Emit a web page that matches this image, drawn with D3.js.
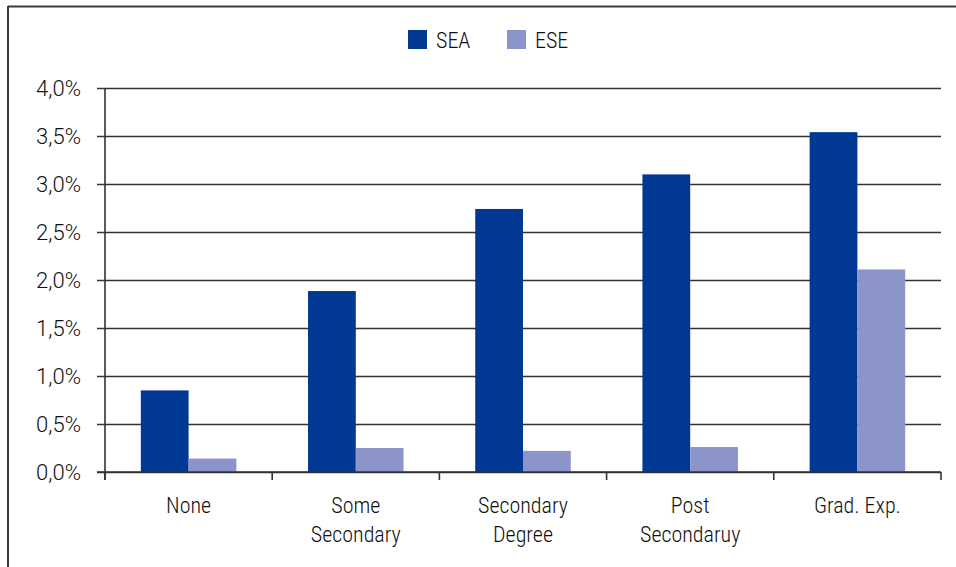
<!DOCTYPE html>
<html>
<head>
<meta charset="utf-8">
<script src="https://cdn.jsdelivr.net/npm/d3@7"></script>
<style>
  html, body { margin: 0; padding: 0; background: #fff; }
  svg { display: block; }
  text { font-family: "Roboto Condensed", "Liberation Sans Narrow", "Arial Narrow", sans-serif; font-weight: 300; fill: #111; }
  .ylab text { font-family: Roboto, "Liberation Sans", sans-serif; font-weight: 300; }
</style>
</head>
<body>
<svg id="chart" width="956" height="567"></svg>
<script>
// Education categories (multi-line labels split on "\n")
const categories = ["None", "Some\nSecondary", "Secondary\nDegree", "Post\nSecondaruy", "Grad. Exp."];
const seriesNames = ["SEA", "ESE"];
const seaValues = [0.85, 1.885, 2.74, 3.10, 3.54];
const eseValues = [0.14, 0.25, 0.22, 0.26, 2.11];
const yTicks = [0, 0.5, 1.0, 1.5, 2.0, 2.5, 3.0, 3.5, 4.0];
const colors = { SEA: "#003894", ESE: "#8c95c9" };

const svg = d3.select("#chart");
const margin = { left: 105, right: 941, top: 88, bottom: 472 };

// outer frame: top and left edges
svg.append("line").attr("x1", 8).attr("x2", 956).attr("y1", 6.5).attr("y2", 6.5)
  .attr("stroke", "#3a3a3a").attr("stroke-width", 2);
svg.append("line").attr("x1", 8).attr("x2", 8).attr("y1", 6).attr("y2", 567)
  .attr("stroke", "#3a3a3a").attr("stroke-width", 2);

const x = d3.scaleBand().domain(categories).range([margin.left, margin.right]).paddingInner(0).paddingOuter(0);
const inner = d3.scaleBand().domain(seriesNames).range([0, x.bandwidth()]).paddingInner(0).paddingOuter(0.75);
const y = d3.scaleLinear().domain([0, 4]).range([margin.bottom, margin.top]);

// horizontal gridlines with left tick marks
const yAxis = d3.axisLeft(y).tickValues(yTicks)
  .tickSize(-(margin.right - margin.left + 8))
  .tickFormat(d => d.toFixed(1).replace(".", ",") + "%");
const gy = svg.append("g").attr("class", "ylab").attr("transform", `translate(${margin.left - 8},0)`).call(yAxis);
gy.select(".domain").remove();
gy.selectAll(".tick line").attr("stroke", "#333").attr("stroke-width", 1.6);
gy.selectAll(".tick text").attr("font-size", 22).attr("fill", "#111").attr("dy", "0.36em")
  .attr("x", -16);

// vertical axis line
svg.append("line").attr("x1", margin.left).attr("x2", margin.left)
  .attr("y1", margin.top).attr("y2", margin.bottom + 8)
  .attr("stroke", "#333").attr("stroke-width", 1.6);

// bars
const rows = categories.map((c, i) => ({ cat: c, SEA: seaValues[i], ESE: eseValues[i] }));
const groups = svg.append("g").selectAll("g").data(rows).join("g")
  .attr("transform", d => `translate(${x(d.cat)},0)`);
groups.selectAll("rect").data(d => seriesNames.map(s => ({ s, v: d[s] }))).join("rect")
  .attr("x", d => inner(d.s))
  .attr("width", inner.bandwidth())
  .attr("y", d => y(d.v))
  .attr("height", d => y(0) - y(d.v))
  .attr("fill", d => colors[d.s]);

// baseline with category boundary ticks
svg.append("line").attr("x1", margin.left - 8).attr("x2", margin.right)
  .attr("y1", y(0)).attr("y2", y(0)).attr("stroke", "#333").attr("stroke-width", 1.6);
const boundaries = categories.map(c => x(c)).concat([margin.right]);
svg.append("g").selectAll("line").data(boundaries).join("line")
  .attr("x1", d => d).attr("x2", d => d)
  .attr("y1", y(0)).attr("y2", y(0) + 8)
  .attr("stroke", "#333").attr("stroke-width", 1.6);

// category labels
const labels = svg.append("g").selectAll("text").data(categories).join("text")
  .attr("text-anchor", "middle")
  .attr("font-size", 22)
  .attr("x", d => x(d) + x.bandwidth() / 2)
  .attr("y", 513);
labels.selectAll("tspan").data(d => d.split("\n")).join("tspan")
  .attr("x", function () { return d3.select(this.parentNode).attr("x"); })
  .attr("dy", (d, i) => i === 0 ? 0 : 29)
  .text(d => d);

// legend
const legend = svg.append("g");
const legendX = [408, 507];
seriesNames.forEach((s, i) => {
  legend.append("rect").attr("x", legendX[i]).attr("y", 30).attr("width", 19).attr("height", 19)
    .attr("fill", colors[s]);
  legend.append("text").attr("x", legendX[i] + 28).attr("y", 48).attr("font-size", 22).text(s);
});
</script>
</body>
</html>
